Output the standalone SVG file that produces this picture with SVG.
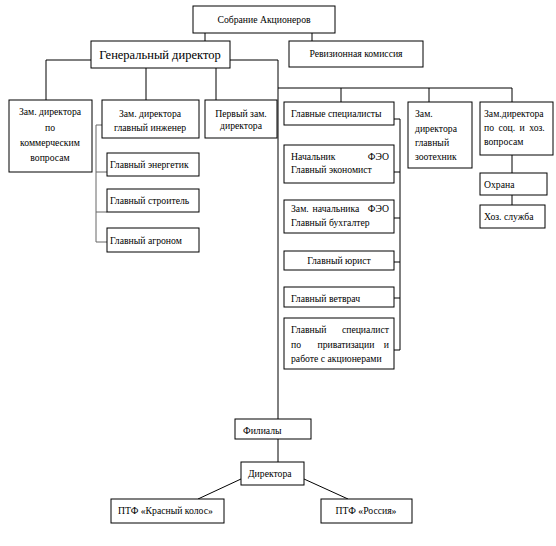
<svg xmlns="http://www.w3.org/2000/svg" width="556" height="546" viewBox="0 0 556 546">
<style>
rect{fill:#fff;stroke:#000;stroke-width:1}
.c{text-anchor:middle}
.e{text-anchor:end}
#connectors line,#connectors polyline{stroke:#000;stroke-width:1;fill:none}
#connectors .g{stroke:#666}
</style>
<rect x="0" y="0" width="556" height="546" style="fill:#fff;stroke:none"/>
<g id="connectors">
<line x1="205" y1="33" x2="205" y2="41"/>
<line x1="312" y1="33" x2="312" y2="41"/>
<polyline points="91,60 46,60 46,100"/>
<polyline points="230,60 278,60 278,419"/>
<line x1="146" y1="68" x2="146" y2="100"/>
<line x1="216" y1="68" x2="216" y2="100"/>
<line x1="278" y1="88" x2="512" y2="88"/>
<line x1="341" y1="88" x2="341" y2="102"/>
<line x1="429" y1="88" x2="429" y2="102"/>
<line x1="512" y1="88" x2="512" y2="102"/>
<line x1="512" y1="155" x2="512" y2="173"/>
<line x1="512" y1="195" x2="512" y2="205"/>
<polyline class="g" points="102,125 96,125 96,242 107,242"/>
<line class="g" x1="96" y1="172" x2="107" y2="172"/>
<line class="g" x1="96" y1="212" x2="107" y2="212"/>
<polyline points="394,119 400,119 400,350 394,350"/>
<line x1="394" y1="172" x2="400" y2="172"/>
<line x1="394" y1="218" x2="400" y2="218"/>
<line x1="394" y1="262" x2="400" y2="262"/>
<line x1="394" y1="298" x2="400" y2="298"/>
<line x1="278" y1="439" x2="278" y2="462"/>
<line x1="241" y1="479" x2="198" y2="499"/>
<line x1="304" y1="479" x2="348" y2="499"/>
</g>
<g id="sobranie"><rect x="193" y="6" width="142" height="27"/><text font-family="Liberation Serif" font-size="9.7" class="c" x="264" y="22.5">Собрание Акционеров</text></g>
<g id="gendir"><rect x="91" y="41" width="139" height="27"/><text font-family="Liberation Serif" font-size="12.5" class="c" x="160" y="59">Генеральный директор</text></g>
<g id="revkom"><rect x="289" y="41" width="134" height="26"/><text font-family="Liberation Serif" font-size="9.7" class="c" x="356" y="57">Ревизионная комиссия</text></g>
<g id="zamkom"><rect x="9" y="100" width="83" height="72"/><text font-family="Liberation Serif" font-size="9.7" class="c" x="50"><tspan x="50" y="114.5">Зам. директора</tspan><tspan x="50" y="131">по</tspan><tspan x="50" y="146">коммерческим</tspan><tspan x="50" y="161">вопросам</tspan></text></g>
<g id="zaming"><rect x="102" y="100" width="97" height="38"/><text font-family="Liberation Serif" font-size="9.7" class="c"><tspan x="150" y="117">Зам. директора</tspan><tspan x="150" y="130.5">главный инженер</tspan></text></g>
<g id="pervzam"><rect x="205" y="100" width="72" height="38"/><text font-family="Liberation Serif" font-size="9.7" class="c"><tspan x="241" y="116.5">Первый зам.</tspan><tspan x="241" y="129">директора</tspan></text></g>
<g id="energ"><rect x="107" y="153" width="92" height="23"/><text font-family="Liberation Serif" font-size="9.7" x="110" y="168">Главный энергетик</text></g>
<g id="stroit"><rect x="107" y="189" width="92" height="23"/><text font-family="Liberation Serif" font-size="9.7" x="110" y="204">Главный строитель</text></g>
<g id="agronom"><rect x="107" y="228" width="92" height="24"/><text font-family="Liberation Serif" font-size="9.7" x="110" y="243.5">Главный агроном</text></g>
<g id="glspec"><rect x="284" y="102" width="110" height="23"/><text font-family="Liberation Serif" font-size="9.7" x="291" y="116.5">Главные специалисты</text></g>
<g id="zoo"><rect x="408" y="102" width="64" height="66"/><text font-family="Liberation Serif" font-size="9.7"><tspan x="415" y="117">Зам.</tspan><tspan x="415" y="131.5">директора</tspan><tspan x="415" y="146">главный</tspan><tspan x="415" y="159.5">зоотехник</tspan></text></g>
<g id="zamsoc"><rect x="480" y="102" width="73" height="53"/><text font-family="Liberation Serif" font-size="9.7"><tspan x="484" y="117">Зам.директора</tspan><tspan x="484" y="130.5" word-spacing="2">по соц. и хоз.</tspan><tspan x="484" y="145">вопросам</tspan></text></g>
<g id="ohrana"><rect x="480" y="173" width="67" height="22"/><text font-family="Liberation Serif" font-size="9.7" x="484" y="187.5">Охрана</text></g>
<g id="hoz"><rect x="480" y="205" width="65" height="23"/><text font-family="Liberation Serif" font-size="9.7" x="484" y="220">Хоз. служба</text></g>
<g id="feo"><rect x="284" y="145" width="110" height="38"/><text font-family="Liberation Serif" font-size="9.7" x="291" y="159.5">Начальник</text><text font-family="Liberation Serif" font-size="9.7" class="e" x="389" y="159.5">ФЭО</text><text font-family="Liberation Serif" font-size="9.7" x="291" y="172.5">Главный экономист</text></g>
<g id="buh"><rect x="284" y="200" width="110" height="33"/><text font-family="Liberation Serif" font-size="9.7" x="291" y="212">Зам.</text><text font-family="Liberation Serif" font-size="9.7" class="c" x="336" y="212">начальника</text><text font-family="Liberation Serif" font-size="9.7" class="e" x="389" y="212">ФЭО</text><text font-family="Liberation Serif" font-size="9.7" x="291" y="226">Главный бухгалтер</text></g>
<g id="yurist"><rect x="284" y="251" width="110" height="19"/><text font-family="Liberation Serif" font-size="9.7" class="c" x="339" y="264">Главный юрист</text></g>
<g id="vet"><rect x="284" y="287" width="110" height="20"/><text font-family="Liberation Serif" font-size="9.7" x="291" y="302">Главный ветврач</text></g>
<g id="privat"><rect x="284" y="318" width="110" height="51"/><text font-family="Liberation Serif" font-size="9.7" x="291" y="333">Главный</text><text font-family="Liberation Serif" font-size="9.7" class="e" x="389" y="333">специалист</text><text font-family="Liberation Serif" font-size="9.7" x="291" y="347.5">по</text><text font-family="Liberation Serif" font-size="9.7" class="c" x="346" y="347.5">приватизации</text><text font-family="Liberation Serif" font-size="9.7" class="e" x="389" y="347.5">и</text><text font-family="Liberation Serif" font-size="9.7" x="291" y="361.5">работе с акционерами</text></g>
<g id="filialy"><rect x="235" y="419" width="76" height="20"/><text font-family="Liberation Serif" font-size="9.7" x="243" y="434">Филиалы</text></g>
<g id="direktora"><rect x="241" y="462" width="63" height="23"/><text font-family="Liberation Serif" font-size="9.7" x="248" y="477">Директора</text></g>
<g id="kolos"><rect x="111" y="499" width="113" height="24"/><text font-family="Liberation Serif" font-size="9.7" x="118" y="514">ПТФ «Красный колос»</text></g>
<g id="rossiya"><rect x="321" y="499" width="91" height="24"/><text font-family="Liberation Serif" font-size="9.7" class="c" x="366" y="514">ПТФ «Россия»</text></g>
</svg>
